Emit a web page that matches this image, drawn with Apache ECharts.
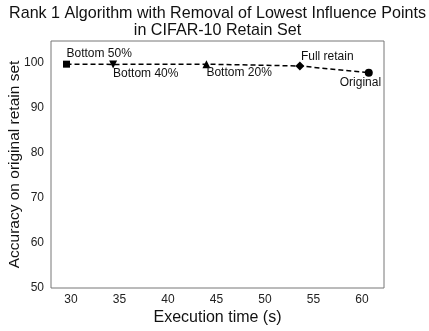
<!DOCTYPE html>
<html><head><meta charset="utf-8">
<script src="https://cdn.jsdelivr.net/npm/echarts@6/dist/echarts.min.js"></script>
<style>html,body{margin:0;padding:0;background:#fff}#c{width:429px;height:331px}</style>
</head><body><div id="c"></div>
<script>
const labels = ['Bottom 50%', 'Bottom 40%', 'Bottom 20%', 'Full retain', 'Original'];
const execTime = [29.55, 34.35, 43.97, 53.6, 60.7];
const accuracy = [99.75, 99.7, 99.75, 99.35, 97.85];
const symbols = ['rect', 'path://M0,0 L10,0 L5,9 Z', 'triangle', 'diamond', 'circle'];
const xTicks = [30, 35, 40, 45, 50, 55, 60];
const yTicks = [50, 60, 70, 80, 90, 100];
const titleText = 'Rank 1 Algorithm with Removal of Lowest Influence Points\nin CIFAR-10 Retain Set';
const labelOffsets = [[0, -10], [0, 9], [0, 9], [1, -9], [-29, 10]];
const symSizes = [7, 8, 8, 9, 8];

const font = 'Liberation Sans, Arial, sans-serif';
const chart = echarts.init(document.getElementById('c'), null, {renderer: 'canvas'});
chart.setOption({
  animation: false,
  backgroundColor: '#fff',
  graphic: [{
    type: 'text', x: 217.5, y: 5,
    style: {text: titleText, textAlign: 'center', textVerticalAlign: 'top',
            fontFamily: font, fontSize: 16.1, lineHeight: 17, fill: '#111'}
  }],
  grid: {left: 51, right: 45, top: 41, bottom: 43, show: true, borderColor: '#777', borderWidth: 1,
         backgroundColor: '#fff', containLabel: false, outerBoundsMode: 'none'},
  xAxis: {
    type: 'value', min: 27.95, max: 62.27,
    name: 'Execution time (s)', nameLocation: 'middle', nameGap: 22, nameMoveOverlap: false,
    nameTextStyle: {fontFamily: font, fontSize: 16, color: '#111'},
    axisLine: {show: false}, axisTick: {show: false}, splitLine: {show: false},
    axisLabel: {customValues: xTicks, fontFamily: font, fontSize: 12, color: '#222', margin: 6}
  },
  yAxis: {
    type: 'value', min: 50, max: 104.9,
    name: 'Accuracy on original retain set', nameLocation: 'middle', nameGap: 28, nameMoveOverlap: false,
    nameTextStyle: {fontFamily: font, fontSize: 15.5, color: '#111'},
    axisLine: {show: false}, axisTick: {show: false}, splitLine: {show: false},
    axisLabel: {customValues: yTicks, fontFamily: font, fontSize: 12, color: '#222', margin: 7}
  },
  series: [{
    type: 'line',
    data: execTime.map((x, i) => ({
      value: [x, accuracy[i]],
      symbol: symbols[i],
      symbolSize: symSizes[i],
      label: {offset: labelOffsets[i]}
    })),
    lineStyle: {color: '#000', width: 1.5, type: [5, 3]},
    itemStyle: {color: '#000'},
    showAllSymbol: true,
    label: {
      show: true, position: 'inside', align: 'left', verticalAlign: 'middle',
      fontFamily: font, fontSize: 12, color: '#111',
      formatter: p => labels[p.dataIndex]
    }
  }]
});
</script></body></html>
